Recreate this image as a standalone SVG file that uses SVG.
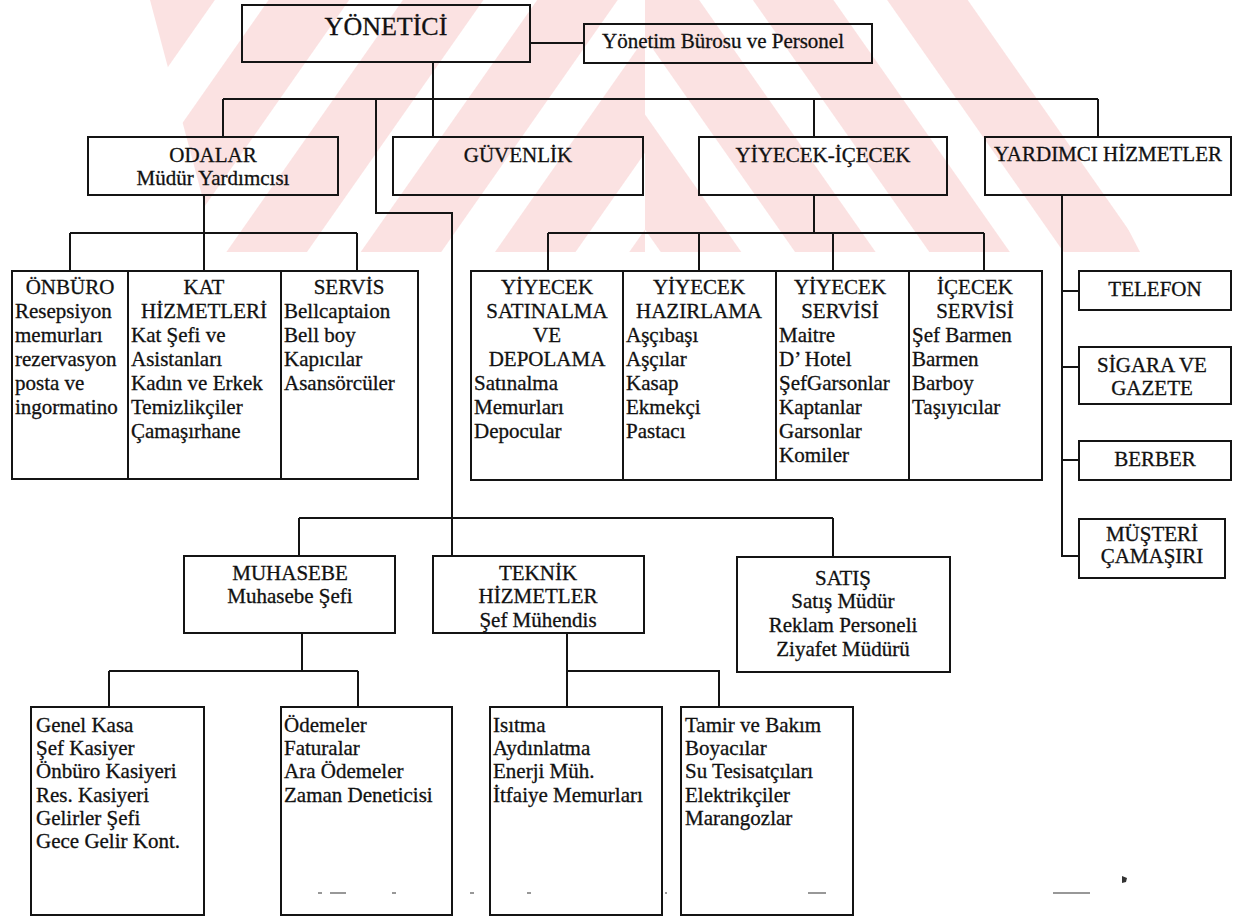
<svg xmlns="http://www.w3.org/2000/svg" width="1233" height="917" viewBox="0 0 1233 917">
  <style>
    .box { fill: none; stroke: #141414; stroke-width: 2; }
    .ln { fill: none; stroke: #141414; stroke-width: 2; }
    text { font-family: "Liberation Serif", "Times New Roman", serif; font-size: 21px; fill: #111; stroke: #111; stroke-width: 0.3; }
    .c { text-anchor: middle; }
    .big { font-size: 26px; }
    .wm { fill: #fbe2e2; }
    .mark { stroke: #333; stroke-width: 1.2; fill: none; }
  </style>
  <defs>
    <pattern id="stripesL" patternUnits="userSpaceOnUse" width="110" height="110" patternTransform="rotate(35)">
      <rect x="0" y="0" width="66" height="110" class="wm"/>
    </pattern>
    <pattern id="stripesR" patternUnits="userSpaceOnUse" width="110" height="110" patternTransform="translate(1290,0) rotate(-35)">
      <rect x="0" y="0" width="66" height="110" class="wm"/>
    </pattern>
    <clipPath id="wmLeft">
      <polygon points="150,0 645,0 645,252 217,252"/>
    </clipPath>
    <clipPath id="wmRight">
      <polygon points="645,0 1010,0 1140,252 645,252"/>
    </clipPath>
  </defs>
  <rect width="1233" height="917" fill="#fff"/>

  <!-- faint background emblem -->
  <g id="watermark">
    <rect x="0" y="0" width="1233" height="260" fill="url(#stripesL)" clip-path="url(#wmLeft)"/>
    <rect x="0" y="0" width="1233" height="260" fill="url(#stripesR)" clip-path="url(#wmRight)"/>
  </g>

  <!-- connectors -->
  <g id="connectors">
    <path class="ln" d="M530,43 H584"/>
    <path class="ln" d="M433,62 V99"/>
    <path class="ln" d="M223,99 H1098"/>
    <path class="ln" d="M223,99 V137 M433,99 V137 M814,99 V137 M1098,99 V137"/>
    <path class="ln" d="M376,99 V213 H452 V556"/>
    <!-- rooms -->
    <path class="ln" d="M204,195 V233 M70,233 H357 M70,233 V271 M204,233 V271 M357,233 V271"/>
    <!-- food and beverage -->
    <path class="ln" d="M814,195 V233 M548,233 H984 M548,233 V271 M699,233 V271 M833,233 V271 M984,233 V271"/>
    <!-- auxiliary services -->
    <path class="ln" d="M1062,195 V556 H1079 M1062,291 H1079 M1062,367 H1079 M1062,460 H1079"/>
    <!-- accounting / technical / sales -->
    <path class="ln" d="M299,518 H833 M299,518 V556 M833,518 V557"/>
    <path class="ln" d="M302,633 V671 M109,671 H358 M109,671 V707 M358,671 V707"/>
    <path class="ln" d="M567,633 V707 M567,671 H719 V707"/>
  </g>

  <!-- top -->
  <g id="yonetici">
    <rect class="box" x="242" y="5" width="288" height="57"/>
    <text class="c big" x="386" y="35">YÖNETİCİ</text>
  </g>
  <g id="yonetim-burosu">
    <rect class="box" x="584" y="24" width="288" height="39"/>
    <text class="c" x="723" y="48">Yönetim Bürosu ve Personel</text>
  </g>

  <!-- second row -->
  <g id="odalar">
    <rect class="box" x="88" y="137" width="250" height="58"/>
    <text class="c" x="213" y="162">ODALAR</text>
    <text class="c" x="213" y="185">Müdür Yardımcısı</text>
  </g>
  <g id="guvenlik">
    <rect class="box" x="393" y="137" width="250" height="58"/>
    <text class="c" x="518" y="162">GÜVENLİK</text>
  </g>
  <g id="yiyecek-icecek">
    <rect class="box" x="699" y="137" width="248" height="58"/>
    <text class="c" x="823" y="162">YİYECEK-İÇECEK</text>
  </g>
  <g id="yardimci">
    <rect class="box" x="985" y="137" width="246" height="58"/>
    <text class="c" x="1108" y="161">YARDIMCI HİZMETLER</text>
  </g>

  <!-- rooms departments -->
  <g id="odalar-birimleri">
    <rect class="box" x="12" y="271" width="406" height="208"/>
    <path class="ln" d="M128,271 V479 M281,271 V479"/>
  </g>
  <g id="onburo">
    <text class="c" x="70" y="294">ÖNBÜRO</text>
    <text x="15" y="318">Resepsiyon</text>
    <text x="15" y="342">memurları</text>
    <text x="15" y="366">rezervasyon</text>
    <text x="15" y="390">posta ve</text>
    <text x="15" y="414">ingormatino</text>
  </g>
  <g id="kat-hizmetleri">
    <text class="c" x="204" y="294">KAT</text>
    <text class="c" x="204" y="318">HİZMETLERİ</text>
    <text x="131" y="342">Kat Şefi ve</text>
    <text x="131" y="366">Asistanları</text>
    <text x="131" y="390">Kadın ve Erkek</text>
    <text x="131" y="414">Temizlikçiler</text>
    <text x="131" y="438">Çamaşırhane</text>
  </g>
  <g id="servis">
    <text class="c" x="349" y="294">SERVİS</text>
    <text x="284" y="318">Bellcaptaion</text>
    <text x="284" y="342">Bell boy</text>
    <text x="284" y="366">Kapıcılar</text>
    <text x="284" y="390">Asansörcüler</text>
  </g>

  <!-- food and beverage departments -->
  <g id="yiyecek-birimleri">
    <rect class="box" x="471" y="271" width="571" height="209"/>
    <path class="ln" d="M623,271 V480 M776,271 V480 M909,271 V480"/>
  </g>
  <g id="satinalma">
    <text class="c" x="547" y="294">YİYECEK</text>
    <text class="c" x="547" y="318">SATINALMA</text>
    <text class="c" x="547" y="342">VE</text>
    <text class="c" x="547" y="366">DEPOLAMA</text>
    <text x="474" y="390">Satınalma</text>
    <text x="474" y="414">Memurları</text>
    <text x="474" y="438">Depocular</text>
  </g>
  <g id="hazirlama">
    <text class="c" x="699" y="294">YİYECEK</text>
    <text class="c" x="699" y="318">HAZIRLAMA</text>
    <text x="626" y="342">Aşçıbaşı</text>
    <text x="626" y="366">Aşçılar</text>
    <text x="626" y="390">Kasap</text>
    <text x="626" y="414">Ekmekçi</text>
    <text x="626" y="438">Pastacı</text>
  </g>
  <g id="yiyecek-servisi">
    <text class="c" x="840" y="294">YİYECEK</text>
    <text class="c" x="840" y="318">SERVİSİ</text>
    <text x="779" y="342">Maitre</text>
    <text x="779" y="366">D’ Hotel</text>
    <text x="779" y="390">ŞefGarsonlar</text>
    <text x="779" y="414">Kaptanlar</text>
    <text x="779" y="438">Garsonlar</text>
    <text x="779" y="462">Komiler</text>
  </g>
  <g id="icecek-servisi">
    <text class="c" x="975" y="294">İÇECEK</text>
    <text class="c" x="975" y="318">SERVİSİ</text>
    <text x="912" y="342">Şef Barmen</text>
    <text x="912" y="366">Barmen</text>
    <text x="912" y="390">Barboy</text>
    <text x="912" y="414">Taşıyıcılar</text>
  </g>

  <!-- auxiliary services -->
  <g id="telefon">
    <rect class="box" x="1079" y="271" width="152" height="39"/>
    <text class="c" x="1155" y="296">TELEFON</text>
  </g>
  <g id="sigara">
    <rect class="box" x="1079" y="347" width="152" height="57"/>
    <text class="c" x="1152" y="372">SİGARA VE</text>
    <text class="c" x="1152" y="395">GAZETE</text>
  </g>
  <g id="berber">
    <rect class="box" x="1079" y="441" width="152" height="39"/>
    <text class="c" x="1155" y="466">BERBER</text>
  </g>
  <g id="musteri">
    <rect class="box" x="1079" y="519" width="146" height="59"/>
    <text class="c" x="1152" y="541">MÜŞTERİ</text>
    <text class="c" x="1152" y="563">ÇAMAŞIRI</text>
  </g>

  <!-- lower row -->
  <g id="muhasebe">
    <rect class="box" x="184" y="556" width="211" height="77"/>
    <text class="c" x="290" y="580">MUHASEBE</text>
    <text class="c" x="290" y="603">Muhasebe Şefi</text>
  </g>
  <g id="teknik">
    <rect class="box" x="433" y="556" width="211" height="77"/>
    <text class="c" x="538" y="580">TEKNİK</text>
    <text class="c" x="538" y="603">HİZMETLER</text>
    <text class="c" x="538" y="627">Şef Mühendis</text>
  </g>
  <g id="satis">
    <rect class="box" x="737" y="557" width="213" height="115"/>
    <text class="c" x="843" y="585">SATIŞ</text>
    <text class="c" x="843" y="608">Satış Müdür</text>
    <text class="c" x="843" y="632">Reklam Personeli</text>
    <text class="c" x="843" y="656">Ziyafet Müdürü</text>
  </g>

  <!-- accounting units -->
  <g id="kasa">
    <rect class="box" x="31" y="707" width="173" height="208"/>
    <text x="36" y="732">Genel Kasa</text>
    <text x="36" y="755">Şef Kasiyer</text>
    <text x="36" y="778">Önbüro Kasiyeri</text>
    <text x="36" y="802">Res. Kasiyeri</text>
    <text x="36" y="825">Gelirler Şefi</text>
    <text x="36" y="848">Gece Gelir Kont.</text>
  </g>
  <g id="odemeler">
    <rect class="box" x="281" y="707" width="171" height="208"/>
    <text x="284" y="732">Ödemeler</text>
    <text x="284" y="755">Faturalar</text>
    <text x="284" y="778">Ara Ödemeler</text>
    <text x="284" y="802">Zaman Deneticisi</text>
  </g>

  <!-- technical units -->
  <g id="isitma">
    <rect class="box" x="490" y="707" width="172" height="208"/>
    <text x="493" y="732">Isıtma</text>
    <text x="493" y="755">Aydınlatma</text>
    <text x="493" y="778">Enerji Müh.</text>
    <text x="493" y="802">İtfaiye Memurları</text>
  </g>
  <g id="tamir">
    <rect class="box" x="681" y="707" width="172" height="208"/>
    <text x="685" y="732">Tamir ve Bakım</text>
    <text x="685" y="755">Boyacılar</text>
    <text x="685" y="778">Su Tesisatçıları</text>
    <text x="685" y="802">Elektrikçiler</text>
    <text x="685" y="825">Marangozlar</text>
  </g>

  <!-- stray marks along the lower edge -->
  <g id="marks">
    <path class="mark" d="M318,893 H322 M330,893 H346 M392,893 H396 M470,893 H474 M527,893 H531 M808,893 H826 M665,893 H667 M1053,893 H1090"/>
    <path d="M1122,876 l5,2 l-1,4 l-4,1 z" fill="#333"/>
  </g>
</svg>
